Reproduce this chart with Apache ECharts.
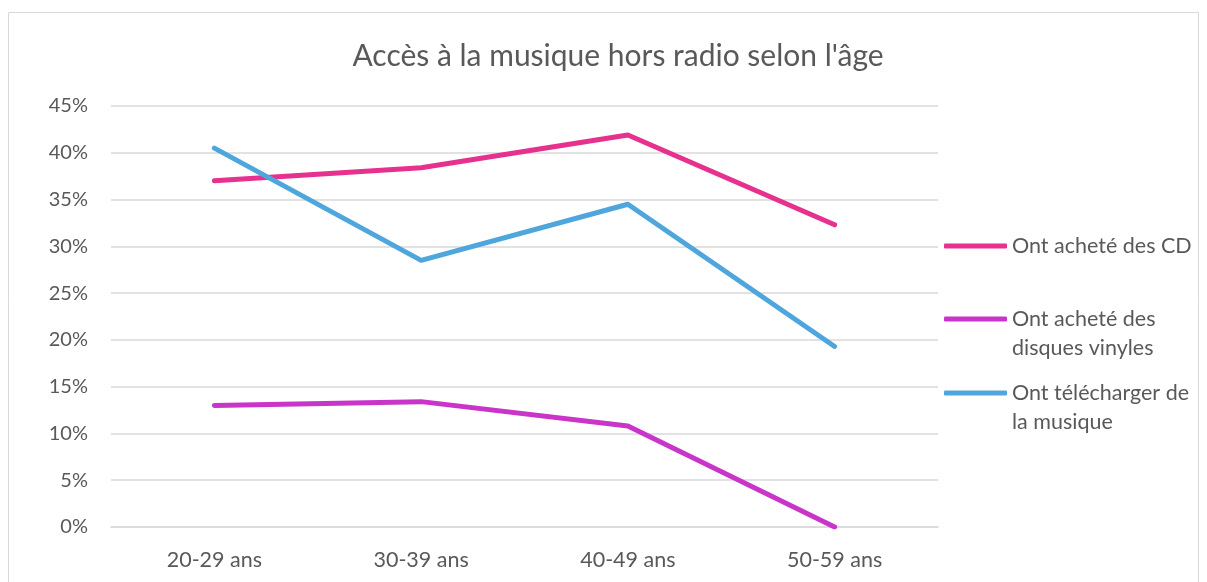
<!DOCTYPE html>
<html>
<head>
<meta charset="utf-8">
<script src="https://cdn.jsdelivr.net/npm/echarts@6/dist/echarts.min.js"></script>
<style>
  html, body { margin: 0; padding: 0; background: #fff; }
  #main { width: 1207px; height: 582px; }
</style>
</head>
<body>
<div id="main"></div>
<script>
// catégories (âge)
const ages = ['20-29 ans', '30-39 ans', '40-49 ans', '50-59 ans'];
// valeurs en %
const cd = [37.0, 38.4, 41.9, 32.3];
const vinyles = [13.0, 13.4, 10.8, 0];
const telechargement = [40.5, 28.5, 34.5, 19.3];

const grey = '#595959';
const font = 'Lato';

const chart = echarts.init(document.getElementById('main'));

// une légende par série, pour placer le trait face à la 1re ligne du texte
function legendAt(name, top) {
  return {
    data: [name],
    left: 939,
    top: top,
    orient: 'vertical',
    itemWidth: 63,
    itemHeight: 5,
    itemGap: 0,
    icon: 'roundRect',
    formatter: function (n) {
      // ligne vide en tête : le trait se retrouve centré sur la 1re ligne
      if (n === 'Ont acheté des disques vinyles') return '\nOnt acheté des\ndisques vinyles';
      if (n === 'Ont télécharger de la musique') return '\nOnt télécharger de\nla musique';
      return n;
    },
    textStyle: {
      color: grey,
      fontFamily: font,
      fontSize: 21.5,
      lineHeight: 29
    }
  };
}

const option = {
  backgroundColor: '#fff',
  animation: false,
  title: {
    text: "Accès à la musique hors radio selon l'âge",
    left: 613,
    textAlign: 'center',
    top: 36,
    textStyle: { color: grey, fontFamily: font, fontSize: 30, fontWeight: 'normal' }
  },
  legend: [
    legendAt('Ont acheté des CD', 226.5),
    legendAt('Ont acheté des disques vinyles', 270.5),
    legendAt('Ont télécharger de la musique', 344.5)
  ],
  graphic: [{
    type: 'rect',
    shape: { x: 8.5, y: 12.5, width: 1190, height: 600 },
    style: { fill: 'none', stroke: '#d9d9d9', lineWidth: 1 },
    silent: true
  }],
  grid: { left: 111, right: 269, top: 106, bottom: 55 },
  xAxis: {
    type: 'category',
    data: ages,
    boundaryGap: true,
    axisLine: { show: true, lineStyle: { color: '#d9d9d9', width: 1.5 } },
    axisTick: { show: false },
    axisLabel: { color: grey, fontFamily: font, fontSize: 21.5, margin: 22 }
  },
  yAxis: {
    type: 'value',
    min: 0,
    max: 45,
    interval: 5,
    axisLine: { show: false },
    axisTick: { show: false },
    splitLine: { lineStyle: { color: '#d9d9d9', width: 1.5 } },
    axisLabel: { color: grey, fontFamily: font, fontSize: 20, margin: 23, formatter: '{value}%' }
  },
  series: [
    {
      name: 'Ont acheté des CD', type: 'line', data: cd,
      symbol: 'none', color: '#E6318F',
      lineStyle: { width: 5, cap: 'round', join: 'round' }
    },
    {
      name: 'Ont acheté des disques vinyles', type: 'line', data: vinyles,
      symbol: 'none', color: '#C935C8',
      lineStyle: { width: 5, cap: 'round', join: 'round' }
    },
    {
      name: 'Ont télécharger de la musique', type: 'line', data: telechargement,
      symbol: 'none', color: '#4EA6DC',
      lineStyle: { width: 5, cap: 'round', join: 'round' }
    }
  ]
};

chart.setOption(option);
</script>
</body>
</html>
